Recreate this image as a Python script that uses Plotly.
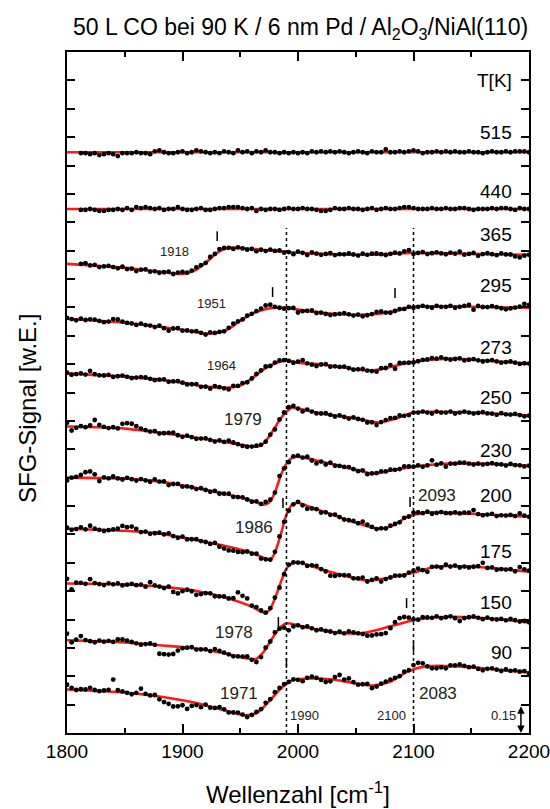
import plotly.graph_objects as go
import numpy as np

FONT = "Liberation Sans, Arial, sans-serif"

# ---- data -------------------------------------------------------------
TEMPS = ["515", "440", "365", "295", "273", "250", "230", "200", "175", "150", "90"]
# vertical offset of each spectrum (SFG signal, a.u.; scale bar = 0.15)
OFFSETS = [3.07, 2.77, 2.48, 2.19, 1.90, 1.62, 1.35, 1.08, 0.79, 0.49, 0.23]
LABEL_Y = [3.177, 2.865, 2.635, 2.368, 2.040, 1.771, 1.496, 1.253, 0.957, 0.692, 0.423]

# fitted curves (relative to the offset)
FIT_X = [
    [1800, 2200],
    [1800, 2200],
    [1800, 1850, 1880, 1900, 1910, 1920, 1930, 1940, 1960, 1990, 2020, 2060, 2100, 2150, 2200],
    [1800, 1850, 1880, 1900, 1920, 1930, 1940, 1950, 1960, 1970, 1980, 1990, 2000, 2020, 2050, 2070, 2085, 2100, 2150, 2200],
    [1800, 1850, 1880, 1900, 1920, 1940, 1950, 1960, 1970, 1980, 1990, 2000, 2020, 2040, 2060, 2070, 2085, 2100, 2130, 2160, 2200],
    [1800, 1850, 1880, 1910, 1940, 1960, 1965, 1970, 1975, 1980, 1985, 1990, 1995, 2000, 2020, 2050, 2070, 2085, 2100, 2150, 2200],
    [1800, 1850, 1880, 1910, 1940, 1960, 1970, 1975, 1980, 1985, 1990, 1995, 2000, 2020, 2050, 2065, 2080, 2100, 2130, 2160, 2200],
    [1800, 1850, 1880, 1910, 1940, 1960, 1970, 1976, 1980, 1985, 1990, 1995, 2000, 2010, 2030, 2050, 2070, 2080, 2095, 2110, 2150, 2200],
    [1800, 1850, 1880, 1910, 1940, 1960, 1970, 1975, 1980, 1985, 1990, 1995, 2000, 2010, 2030, 2060, 2080, 2100, 2120, 2150, 2200],
    [1800, 1850, 1880, 1910, 1940, 1955, 1963, 1970, 1975, 1980, 1985, 1990, 2000, 2020, 2040, 2055, 2080, 2100, 2120, 2150, 2200],
    [1800, 1850, 1880, 1910, 1940, 1955, 1965, 1975, 1985, 1995, 2010, 2030, 2050, 2065, 2080, 2095, 2110, 2140, 2170, 2200],
]
FIT_Y = [
    [0.0, 0.0],
    [0.0, 0.0],
    [0.0, -0.021, -0.042, -0.053, -0.037, 0.005, 0.058, 0.085, 0.079, 0.063, 0.053, 0.048, 0.058, 0.053, 0.048],
    [0.0, -0.021, -0.042, -0.058, -0.079, -0.074, -0.053, -0.011, 0.026, 0.048, 0.058, 0.058, 0.048, 0.032, 0.021, 0.026, 0.042, 0.063, 0.063, 0.058],
    [0.0, -0.016, -0.032, -0.048, -0.069, -0.074, -0.063, -0.026, 0.021, 0.053, 0.069, 0.058, 0.048, 0.032, 0.016, 0.021, 0.042, 0.063, 0.079, 0.069, 0.053],
    [0.0, -0.011, -0.032, -0.058, -0.085, -0.106, -0.106, -0.090, -0.053, -0.005, 0.042, 0.079, 0.100, 0.095, 0.069, 0.042, 0.021, 0.042, 0.074, 0.074, 0.058],
    [0.0, -0.005, -0.021, -0.053, -0.090, -0.122, -0.143, -0.132, -0.079, 0.011, 0.074, 0.106, 0.111, 0.085, 0.042, 0.021, 0.037, 0.058, 0.074, 0.074, 0.063],
    [0.0, -0.011, -0.026, -0.058, -0.095, -0.127, -0.153, -0.164, -0.127, -0.032, 0.074, 0.127, 0.137, 0.116, 0.074, 0.032, 0.0, 0.011, 0.063, 0.085, 0.079, 0.063],
    [0.0, -0.005, -0.016, -0.037, -0.079, -0.122, -0.153, -0.143, -0.079, 0.005, 0.079, 0.106, 0.111, 0.095, 0.058, 0.016, 0.032, 0.058, 0.090, 0.090, 0.063],
    [0.0, -0.011, -0.026, -0.042, -0.074, -0.095, -0.100, -0.063, -0.016, 0.032, 0.069, 0.090, 0.079, 0.053, 0.037, 0.037, 0.074, 0.106, 0.122, 0.122, 0.095],
    [0.0, -0.016, -0.037, -0.069, -0.116, -0.137, -0.122, -0.063, 0.005, 0.048, 0.058, 0.053, 0.032, 0.021, 0.042, 0.095, 0.122, 0.122, 0.106, 0.090],
]

# measured points: wavenumber grid and deviation from the fit (units of 0.005)
DOT_X = list(range(1800, 2201, 4))
N = None
DOT_RES = [
    [N, N, N, -1, -1, -2, -1, -3, -2, -1,  -2, -4, -1, -1, -1, 0, -1, -1, -2, 1,
     2, 0, -1, -1, 0, 1, -1, 0, 2, 1,  0, -1, 0, -1, 1, 0, -1, 2, 0, 1,
     -1, 1, 0, 2, 0, 0, -1, 0, -1, 0,  -1, 0, -1, 1, 0, 1, 0, 1, 0, 1,
     0, -1, 0, 1, 0, -1, 1, 0, 0, 3,  0, 0, 1, 0, 1, 2, 1, -1, 0, 0,
     1, 0, 1, 0, 1, 0, 0, 1, 0, 0,  -1, 0, 1, 0, 0, 1, 0, 1, 1, 1,  0],
    [N, N, N, -1, -1, 0, -1, -2, -2, -1,  -1, 0, -1, 1, -1, 2, 1, 2, 1, 0,
     1, -1, 0, 0, 2, 0, -1, -1, 0, 1,  -1, -1, 0, 1, 1, 2, 2, 2, 1, 0,
     1, -2, 0, -1, 0, 0, -1, 0, 1, 0,  0, 1, 0, 0, -1, -2, -2, -1, 1, 0,
     0, 1, 0, 0, -1, 0, 1, -1, 0, 1,  0, 0, 1, 2, 2, 1, 0, 0, 0, 1,
     0, 0, 1, 0, 0, 1, 1, 0, -1, 0,  0, 0, 1, 0, 1, 1, 0, -1, 1, 0,  0],
    [N, N, N, 1, 2, 0, 1, -1, 0, 1,  0, -1, 1, -1, 0, -2, 0, 1, -1, 0,
     -1, 0, 1, -1, 1, 2, 0, 1, 2, 1,  0, 2, 1, 3, 2, 0, -1, 1, 0, -1,
     0, -2, 0, -1, 1, 0, 1, -1, 0, -2,  1, 0, -2, 1, 0, -1, 0, 1, -1, 0,
     0, 1, 0, -1, 1, 0, 1, 1, 0, -1,  0, 1, 0, 2, 3, -1, 0, 1, -1, 0,
     1, 0, -1, 1, 0, 2, -1, 0, 1, -2,  0, 1, 0, -1, 1, 0, 0, -2, -3, -1,  0],
    [1, 0, -1, 1, 0, 1, 1, 0, -1, 0,  3, 3, 1, 0, 0, -1, 1, 0, 0, -1,
     1, -1, -3, 0, 1, -1, 0, 0, 1, 0,  -1, 1, 0, 0, -1, 1, 2, 1, 0, 1,
     0, 1, 2, 4, 4, 1, 0, -1, 0, 1,  -3, -1, 0, 1, -1, 0, -1, -2, -1, 0,
     1, 0, -1, 0, -2, -1, 0, 2, 2, 0,  -1, 0, 1, 0, 1, -1, 0, 1, 0, -1,
     1, 0, 0, 1, -1, 0, 1, 2, -3, 1,  0, 0, 1, 0, -1, -2, -1, 0, 1, 4,  3],
    [1, -1, 0, 1, 0, 4, 1, 0, 0, 1,  -1, 0, 1, 0, -1, 0, 1, 1, 0, -1,
     0, 1, -1, 0, 1, 0, -1, 0, 1, -1,  0, -2, 1, 0, -1, -2, 1, 0, 1, -1,
     0, 1, 1, 2, 0, 1, 2, 1, 0, -1,  1, 3, 0, -1, -2, 0, 1, -1, 0, 0,
     1, 0, -1, 0, 1, 0, -1, -2, 1, 0,  2, -3, 2, 1, 0, -1, 0, 1, 1, 2,
     1, 2, 0, -1, 0, 1, -1, 0, 1, 0,  -1, 0, 1, 0, -1, 0, 1, 0, -1, 0,  0],
    [4, -4, -1, 1, 0, 2, 8, 3, 1, 0,  1, 0, 5, 6, 6, 4, 2, 1, 0, 1,
     -1, 0, 1, 2, 0, -1, 1, 0, -1, 0,  1, 0, -1, 1, 0, 2, 1, 0, -1, -1,
     0, 1, 0, -1, 0, -2, 1, 2, 3, 2,  0, -2, 1, 0, -1, 0, 1, 0, -1, 1,
     0, -1, 1, 0, 0, -2, -1, -3, 0, 1,  2, 1, 2, 0, -1, 0, 0, 1, 0, -1,
     1, 0, 0, 1, -1, 0, 1, 0, -1, 0,  1, 0, 0, -1, 1, 0, 0, 1, 0, -1,  0],
    [-3, 0, 1, 3, 6, 7, 4, -3, 1, 0,  2, 0, -1, 1, 0, -1, 1, 0, -1, 2,
     0, 1, -2, 0, 1, -1, 0, 0, -1, 1,  0, -1, 1, -1, 0, 1, -1, 0, 1, 0,
     -1, 1, 0, 2, 1, 0, 3, 0, -1, 1,  1, 0, 2, -1, -3, 0, -2, 1, -1, 0,
     0, 1, 0, -1, 1, -2, 0, 0, 1, 0,  1, 0, 0, 2, 1, 0, 1, -1, 0, 5,
     0, 1, -3, 0, 0, 1, 1, 0, -1, 0,  -1, 0, 1, 0, 0, -1, 1, 0, 0, -1,  0],
    [1, -1, 0, 2, 0, 4, 1, 0, -1, 0,  1, 2, 5, 4, 5, 3, 0, 1, -1, 0,
     1, 0, 2, 0, -1, 1, -1, 0, 1, 0,  0, -1, 1, -2, -3, -4, -3, -3, -2, 0,
     -1, 1, -2, -1, 0, 1, 2, 1, 0, 0,  1, -1, -3, -1, 0, -2, 0, -1, 1, 0,
     -1, 0, 1, 0, 3, 1, 0, -1, 0, -1,  1, 0, -1, 1, 0, 3, 2, 0, 1, -1,
     0, 1, 0, 0, 1, 0, 1, 1, 4, 0,  -1, 0, 1, -1, 0, 0, 1, 0, 3, 1,  0],
    [5, -6, 1, 1, 0, 5, 1, 0, -1, 1,  0, 1, -1, 0, 1, 0, 1, -1, 4, 1,
     0, -1, 1, -4, -5, -2, 0, -1, -4, -2,  0, 1, -1, 0, 1, 0, 2, 10, 8, 7,
     1, 2, 1, -1, 0, 1, -2, 0, 2, 1,  0, 1, -1, 1, 2, 0, -1, -4, -3, -1,
     0, 1, -1, 0, 2, -1, 0, 1, -3, -1,  0, 1, 0, -1, 1, 2, 3, 0, -3, 1,
     0, -1, 2, 0, 1, -1, 0, -1, 0, 1,  5, 0, 1, -1, 0, 0, 1, -1, 4, 2,  1],
    [7, -2, 1, 5, 1, 0, -1, 1, 0, 1,  0, 3, 3, 2, 1, 0, -1, 0, 1, 0,
     -9, -9, -9, -8, -4, -1, 0, 1, -1, 0,  1, 0, 3, 2, 1, 0, -1, 0, 1, 2,
     -1, -4, -3, 1, 0, 2, 0, -3, -7, -2,  0, -1, 1, 0, -1, 1, 0, 0, -1, 1,
     0, 2, 1, 0, -1, -4, -5, -5, -6, -6,  -2, 3, 6, 6, 4, 1, 0, 2, 1, 0,
     1, -1, 0, 1, -1, -4, -1, 0, 1, 0,  -1, 1, 0, 0, 1, 0, 2, 1, 0, 1,  0],
    [5, 2, 0, 1, 1, 3, 1, 0, 1, 2,  13, 2, 1, 0, -1, 1, 6, 1, 0, 1,
     -3, -5, -6, -8, -7, -5, -8, -4, -2, -3,  1, -1, 0, 2, 1, -1, 0, 1, 0, -2,
     -1, 1, 0, 2, 1, 3, 2, 2, 1, 1,  0, -2, 1, 2, 1, -1, -3, -2, 3, 6,
     2, 4, 1, -1, 0, 1, -3, -2, 0, 1,  2, 1, 0, 2, 1, 5, 6, 4, 0, -2,
     -2, -1, -2, 1, 1, 2, 1, 0, 1, -1,  -2, 0, 1, 0, -1, 1, 0, 1, 0, 1,  -1],
]
RES_UNIT = 0.005

# peak-position annotations
PEAK_TEXT = ["1918", "1951", "1964", "1979", "1986", "2093", "1978", "1971", "2083"]
PEAK_TX = [1893, 1925, 1934, 1952, 1962, 2120, 1945, 1949, 2121]
PEAK_TY = [2.548, 2.273, 1.945, 1.657, 1.089, 1.253, 0.529, 0.211, 0.211]
PEAK_SIZE = [13, 13, 13, 17, 17, 17, 17, 17, 17]
MARK_X = [1930, 1978, 2084, 1987, 2097, 1983, 2094, 1990, 2100]
MARK_Y = [2.627, 2.331, 2.326, 1.216, 1.221, 0.587, 0.687, 0.370, 0.455]
REF_LINES = [1990, 2100]
REF_TOP = 2.67
SCALE = 0.15
X_TICKS = [1800, 1900, 2000, 2100, 2200]

# ---- figure -----------------------------------------------------------
fig = go.Figure()
for i, t in enumerate(TEMPS):
    fx = np.array(FIT_X[i], dtype=float)
    fy = np.array(FIT_Y[i], dtype=float) + OFFSETS[i]
    fig.add_trace(go.Scatter(x=fx, y=fy, mode="lines",
                             line=dict(color="#ff1a1a", width=2.6, shape="spline", smoothing=0.7),
                             hoverinfo="skip", showlegend=False))
for i, t in enumerate(TEMPS):
    fx = np.array(FIT_X[i], dtype=float)
    fy = np.array(FIT_Y[i], dtype=float) + OFFSETS[i]
    xs, ys = [], []
    for x, r in zip(DOT_X, DOT_RES[i]):
        if r is None:
            continue
        xs.append(x)
        ys.append(float(np.interp(x, fx, fy)) + r * RES_UNIT)
    fig.add_trace(go.Scatter(x=xs, y=ys, mode="markers",
                             marker=dict(color="black", size=4.8),
                             hoverinfo="skip", showlegend=False))

shapes = []
for xr in REF_LINES:
    shapes.append(dict(type="line", xref="x", yref="y", x0=xr, x1=xr, y0=0, y1=REF_TOP,
                       line=dict(color="black", width=1.5, dash="dot")))
for mx, my in zip(MARK_X, MARK_Y):
    shapes.append(dict(type="line", xref="x", yref="y", x0=mx, x1=mx, y0=my - 0.026, y1=my + 0.026,
                       line=dict(color="black", width=1.5)))

ann = []
ann.append(dict(text="T[K]", x=2187, y=3.452, xref="x", yref="y", xanchor="right", yanchor="middle",
                showarrow=False, font=dict(family=FONT, size=19, color="black")))
for t, ly in zip(TEMPS, LABEL_Y):
    ann.append(dict(text=t, x=2187, y=ly, xref="x", yref="y", xanchor="right", yanchor="middle",
                    showarrow=False, font=dict(family=FONT, size=19, color="black")))
for txt, tx, ty, sz in zip(PEAK_TEXT, PEAK_TX, PEAK_TY, PEAK_SIZE):
    ann.append(dict(text=txt, x=tx, y=ty, xref="x", yref="y", xanchor="center", yanchor="middle",
                    showarrow=False, font=dict(family=FONT, size=sz, color="#222")))
for txt, tx in zip(["1990", "2100", "0.15"], [2006, 2081, 2178]):
    ann.append(dict(text=txt, x=tx, y=0.09, xref="x", yref="y", xanchor="center", yanchor="middle",
                    showarrow=False, font=dict(family=FONT, size=13, color="#222")))
ann.append(dict(text="", x=2193, y=0.0, ax=2193, ay=SCALE, xref="x", yref="y", axref="x", ayref="y",
                showarrow=True, arrowhead=2, arrowside="end+start", arrowsize=1, arrowwidth=1.5,
                arrowcolor="black"))
ann.append(dict(text="50 L CO bei 90 K / 6 nm Pd / Al<sub>2</sub>O<sub>3</sub>/NiAl(110)",
                x=0.506, y=1.0, xref="paper", yref="paper", xanchor="center", yanchor="bottom", yshift=7,
                showarrow=False, font=dict(family=FONT, size=23, color="black")))
ann.append(dict(text="SFG-Signal [w.E.]", x=-0.087, y=0.477, xref="paper", yref="paper",
                xanchor="center", yanchor="middle", textangle=-90,
                showarrow=False, font=dict(family=FONT, size=24, color="black")))
ann.append(dict(text="Wellenzahl [cm<sup>-1</sup>]", x=0.5, y=-0.088, xref="paper", yref="paper",
                xanchor="center", yanchor="middle",
                showarrow=False, font=dict(family=FONT, size=24, color="black")))

fig.update_layout(
    width=550, height=809,
    margin=dict(l=67, r=21, t=52, b=76, autoexpand=False),
    paper_bgcolor="white", plot_bgcolor="white",
    shapes=shapes, annotations=ann,
    xaxis=dict(range=[1800, 2200], tickvals=X_TICKS, ticktext=[str(v) for v in X_TICKS],
               ticks="inside", ticklen=9, tickwidth=1.5, tickcolor="black",
               ticklabeloverflow="allow", automargin=False,
               minor=dict(dtick=50, tick0=1800, ticks="inside", ticklen=5, tickwidth=1.5, tickcolor="black"),
               showline=True, linecolor="black", linewidth=2, mirror="ticks",
               showgrid=False, zeroline=False,
               tickfont=dict(family=FONT, size=19, color="black")),
    yaxis=dict(range=[0, 3.6], dtick=0.15, tick0=0,
               ticks="inside", ticklen=8, tickwidth=1.5, tickcolor="black",
               showticklabels=False, automargin=False,
               showline=True, linecolor="black", linewidth=2, mirror="ticks",
               showgrid=False, zeroline=False),
)

fig.write_html("out.html")
